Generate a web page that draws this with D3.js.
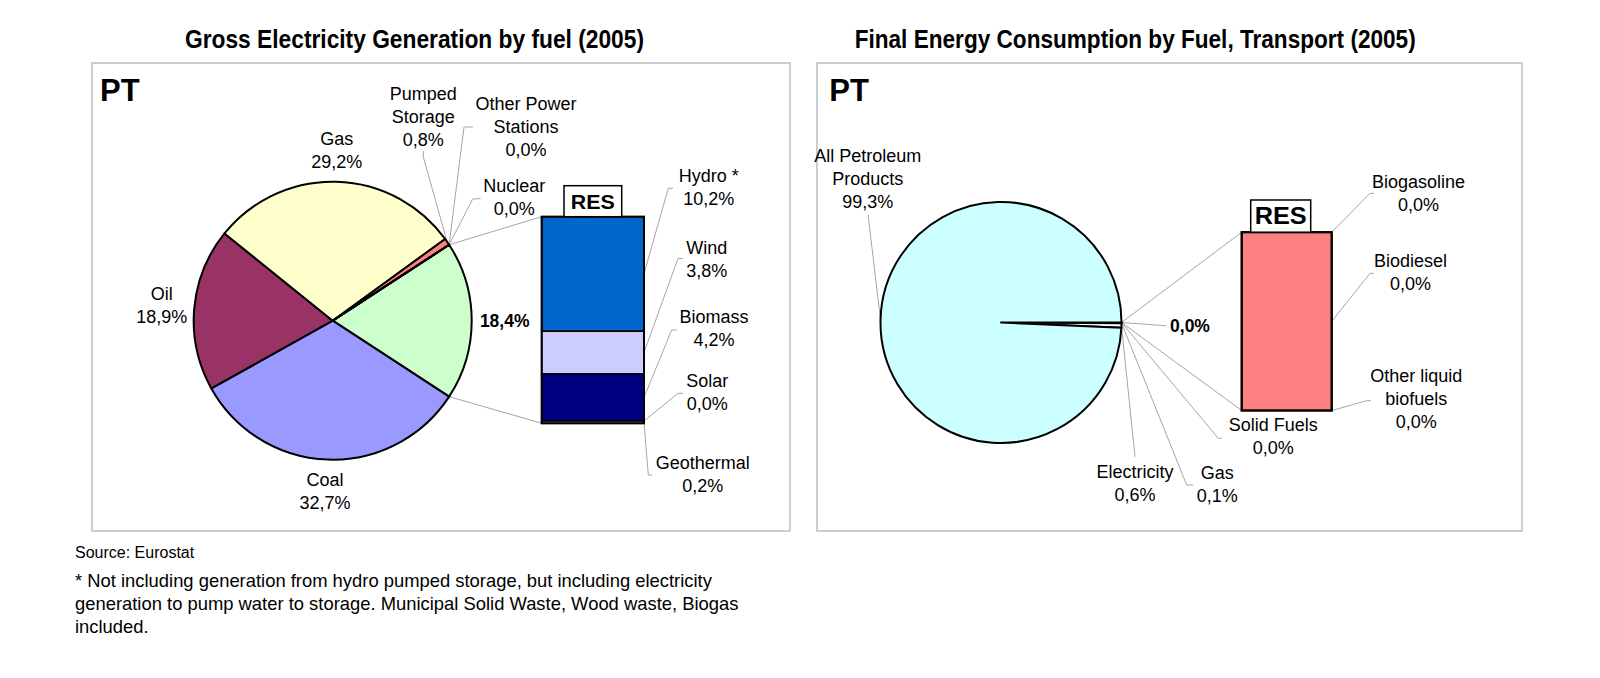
<!DOCTYPE html>
<html><head><meta charset="utf-8">
<script src="https://cdn.jsdelivr.net/npm/d3@7"></script>
<style>
body{margin:0;background:#fff}
svg{display:block}
text{font-family:"Liberation Sans",Arial,Helvetica,sans-serif;fill:#000}
</style>
</head><body>
<svg id="chart" width="1600" height="678"></svg>
<script>
// ---------------- DATA ----------------
const elecFuels = ["RES", "Coal", "Oil", "Gas", "Pumped Storage", "Other Power Stations", "Nuclear"];
const elecShares = [18.4, 32.7, 18.9, 29.2, 0.8, 0.0, 0.0];
const elecResSources = ["Hydro *", "Wind", "Biomass", "Solar", "Geothermal"];
const elecResShares = [10.2, 3.8, 4.2, 0.0, 0.2];

const transFuels = ["RES", "Solid Fuels", "Gas", "Electricity", "All Petroleum Products"];
const transShares = [0.0, 0.0, 0.1, 0.6, 99.3];
const transResSources = ["Biogasoline", "Biodiesel", "Other liquid biofuels"];
const transResShares = [0.0, 0.0, 0.0];
const transResBarParts = [0, 1, 0];   // composition of the RES bar as drawn

const titles = ["Gross Electricity Generation by fuel (2005)", "Final Energy Consumption by Fuel, Transport (2005)"];
const countryLabel = "PT";
const resLabel = "RES";
const sourceNote = "Source: Eurostat";
const footnoteLines = [
  "* Not including generation from hydro pumped storage, but including electricity",
  "generation to pump water to storage. Municipal Solid Waste, Wood waste, Biogas",
  "included."
];

// ---------------- STYLES ----------------
const elecColors = {"RES":"#CCFFCC","Coal":"#9999FF","Oil":"#993366","Gas":"#FFFFCC","Pumped Storage":"#FF8080","Other Power Stations":"#FFFFFF","Nuclear":"#C0C0C0"};
const elecResColors = {"Hydro *":"#0066CC","Wind":"#CCCCFF","Biomass":"#000080","Solar":"#FF9900","Geothermal":"#D8D860"};
const transColors = {"RES":"#FF8080","Solid Fuels":"#993366","Gas":"#FFFFCC","Electricity":"#FFFFFF","All Petroleum Products":"#CCFFFF"};
const transResColors = {"Biogasoline":"#FFFF99","Biodiesel":"#FF8080","Other liquid biofuels":"#993366"};

// ---------------- LAYOUT ----------------
const LH = 23; // label line height
const layout = {
  left: {
    box:[92,63,790,531], title:{x:414.5,y:47.5,len:459}, pt:{x:100,y:100.7},
    pie:{cx:332.7, cy:320.7, r:139},
    bar:{x0:541.7, x1:644, y0:216.7, y1:423.3}, barStroke:1.6, zeroStroke:1.6,
    resBox:{x0:564, x1:621.7, y0:185.7, fs:21, len:44},
    pieLabels:{
      "Gas":{x:336.7,y:145,lines:["Gas"]},
      "Pumped Storage":{x:423.3,y:100,lines:["Pumped","Storage"],leader:[[423.3,151],[423.3,157]]},
      "Other Power Stations":{x:526,y:110,lines:["Other Power","Stations"],leader:[[473,127],[464,127]]},
      "Nuclear":{x:514.3,y:192.3,lines:["Nuclear"],leader:[[480.7,198.5],[472.7,199]]},
      "Oil":{x:161.7,y:300,lines:["Oil"]},
      "Coal":{x:325,y:485.7,lines:["Coal"]},
      "RES":{x:504.7,y:326.7,lines:[],bold:true}
    },
    barLabels:{
      "Hydro *":{x:708.7,y:182.3,leader:[[673,188.3],[668.3,188.3]]},
      "Wind":{x:706.7,y:254,leader:[[683,258.5],[678,258.5]]},
      "Biomass":{x:714,y:323.3,leader:[[676.7,330],[671.7,330]]},
      "Solar":{x:707.3,y:386.7,leader:[[683,393.3],[678,393.3]]},
      "Geothermal":{x:702.7,y:469,leader:[[652,475],[648.3,475]]}
    }
  },
  right: {
    box:[817,63,1522,531], title:{x:1135.2,y:47.5,len:561}, pt:{x:829.3,y:100.7},
    pie:{cx:1001, cy:322.5, r:120.5},
    bar:{x0:1241.7, x1:1331.7, y0:232.2, y1:410.5}, barStroke:2, zeroStroke:3,
    resBox:{x0:1250.7, x1:1310.7, y0:200, fs:23, len:52},
    pieLabels:{
      "All Petroleum Products":{x:867.8,y:161.7,lines:["All Petroleum","Products"],leader:[[868.3,215],[868.5,218.5]]},
      "RES":{x:1190,y:331.7,lines:[],bold:true,leader:[[1166,325.7]]},
      "Solid Fuels":{x:1273.3,y:431,lines:["Solid Fuels"],leader:[[1222,438.3],[1218.3,438.3]]},
      "Gas":{x:1217.3,y:479,lines:["Gas"],leader:[[1193.3,485],[1186.7,485]]},
      "Electricity":{x:1135,y:477.7,lines:["Electricity"],leader:[[1135,456.7]]}
    },
    barLabels:{
      "Biogasoline":{x:1418.5,y:187.7,leader:[[1374,193.3],[1370,193.3]]},
      "Biodiesel":{x:1410.5,y:267.3,leader:[[1374,273.3],[1370,273.3]]},
      "Other liquid biofuels":{x:1416.3,y:381.7,lines:["Other liquid","biofuels"],leader:[[1371,400.7],[1366.7,400.7]]}
    }
  }
};

// ---------------- DRAW ----------------
const svg = d3.select("#chart");
svg.append("rect").attr("width",1600).attr("height",678).attr("fill","#fff");
const fmt = v => d3.format(".1f")(v).replace(".", ",") + "%";
const leaderLine = d3.line();
const LEADER = "#A6A6A6";

function multiText(g, x, y, lines, opts={}) {
  const t = g.append("text").attr("x", x).attr("y", y).attr("text-anchor","middle")
    .attr("font-size", opts.fs || 18).attr("font-weight", opts.bold ? "bold" : "normal");
  lines.forEach((l,i) => t.append("tspan").attr("x", x).attr("dy", i===0 ? 0 : LH).text(l));
  return t;
}

function drawPanel(L, title, names, values, colors, centerRes, barNames, barValues, barParts, barColors, barLabelValues) {
  const g = svg.append("g");
  g.append("rect").attr("x",L.box[0]).attr("y",L.box[1]).attr("width",L.box[2]-L.box[0]).attr("height",L.box[3]-L.box[1])
    .attr("fill","#fff").attr("stroke","#BFBFBF").attr("stroke-width",1.5);
  g.append("text").attr("x",L.title.x).attr("y",L.title.y).attr("text-anchor","middle")
    .attr("font-size",25).attr("font-weight","bold").attr("textLength",L.title.len).attr("lengthAdjust","spacingAndGlyphs").text(title);
  g.append("text").attr("x",L.pt.x).attr("y",L.pt.y).attr("font-size",31).attr("font-weight","bold").text(countryLabel);

  const P = L.pie;
  const total = d3.sum(values);
  const start = centerRes ? Math.PI/2 - (values[0]/total)*Math.PI : Math.PI/2;
  const arcs = d3.pie().sort(null).value(d=>d).startAngle(start).endAngle(start+2*Math.PI)(values);
  const arc = d3.arc().innerRadius(0).outerRadius(P.r);
  const edge = a => [P.cx + P.r*Math.sin(a), P.cy - P.r*Math.cos(a)];

  const B = L.bar;
  const y = d3.scaleLinear().domain([0, d3.sum(barParts)]).range([B.y0, B.y1]);
  const cum = [0, ...d3.cumsum(barParts)];

  const resArc = arcs[0];
  g.append("path").attr("d", leaderLine([edge(resArc.startAngle), [B.x0, y(0)]])).attr("stroke",LEADER).attr("fill","none").attr("stroke-width",1);
  g.append("path").attr("d", leaderLine([edge(resArc.endAngle), [B.x0, y(d3.sum(barParts))]])).attr("stroke",LEADER).attr("fill","none").attr("stroke-width",1);

  arcs.forEach((d,i) => {
    const lab = L.pieLabels[names[i]];
    if (lab && lab.leader) {
      const pts = lab.leader.concat([edge((d.startAngle+d.endAngle)/2)]);
      g.append("path").attr("d", leaderLine(pts)).attr("stroke",LEADER).attr("fill","none").attr("stroke-width",1);
    }
  });
  barNames.forEach((n,i) => {
    const lab = L.barLabels[n];
    const pts = lab.leader.concat([[B.x1, y((cum[i]+cum[i+1])/2)]]);
    g.append("path").attr("d", leaderLine(pts)).attr("stroke",LEADER).attr("fill","none").attr("stroke-width",1);
  });

  g.append("g").attr("transform",`translate(${P.cx},${P.cy})`)
    .selectAll("path").data(arcs).join("path")
    .attr("d", arc).attr("fill",(d,i)=>colors[names[i]])
    .attr("stroke","#000").attr("stroke-width",2).attr("stroke-linejoin","round");

  g.append("g").selectAll("rect").data(barParts).join("rect")
    .attr("x",B.x0).attr("width",B.x1-B.x0)
    .attr("y",(d,i)=>y(cum[i])).attr("height",(d,i)=>y(cum[i+1])-y(cum[i]))
    .attr("fill",(d,i)=>barColors[barNames[i]]).attr("stroke","#000")
    .attr("stroke-width",(d)=>d===0?L.zeroStroke:L.barStroke);
  // outer bar outline
  g.append("rect").attr("x",B.x0).attr("y",B.y0).attr("width",B.x1-B.x0).attr("height",B.y1-B.y0)
    .attr("fill","none").attr("stroke","#000").attr("stroke-width",2);

  const R = L.resBox;
  g.append("rect").attr("x",R.x0).attr("y",R.y0).attr("width",R.x1-R.x0).attr("height",B.y0-R.y0)
    .attr("fill","#fff").attr("stroke","#000").attr("stroke-width",1.5);
  g.append("text").attr("x",(R.x0+R.x1)/2).attr("y",R.y0+(B.y0-R.y0)/2+R.fs*0.36).attr("text-anchor","middle")
    .attr("font-size",R.fs).attr("font-weight","bold").attr("textLength",R.len).attr("lengthAdjust","spacingAndGlyphs").text(resLabel);

  names.forEach((n,i) => {
    const lab = L.pieLabels[n];
    if (!lab) return;
    multiText(g, lab.x, lab.y, lab.lines.concat([fmt(values[i])]), {bold: lab.bold, fs: lab.bold ? 17.5 : 18});
  });
  barNames.forEach((n,i) => {
    const lab = L.barLabels[n];
    multiText(g, lab.x, lab.y, (lab.lines || [n]).concat([fmt(barLabelValues[i])]));
  });
}

drawPanel(layout.left, titles[0], elecFuels, elecShares, elecColors, true,
  elecResSources, elecResShares, elecResShares, elecResColors, elecResShares);
drawPanel(layout.right, titles[1], transFuels, transShares, transColors, false,
  transResSources, transResShares, transResBarParts, transResColors, transResShares);

svg.append("text").attr("x",75).attr("y",557.7).attr("font-size",16).text(sourceNote);
const fn = svg.append("text").attr("x",75).attr("y",586.7).attr("font-size",18.4);
footnoteLines.forEach((l,i)=>fn.append("tspan").attr("x",75).attr("dy",i===0?0:23).text(l));
</script>
</body></html>
